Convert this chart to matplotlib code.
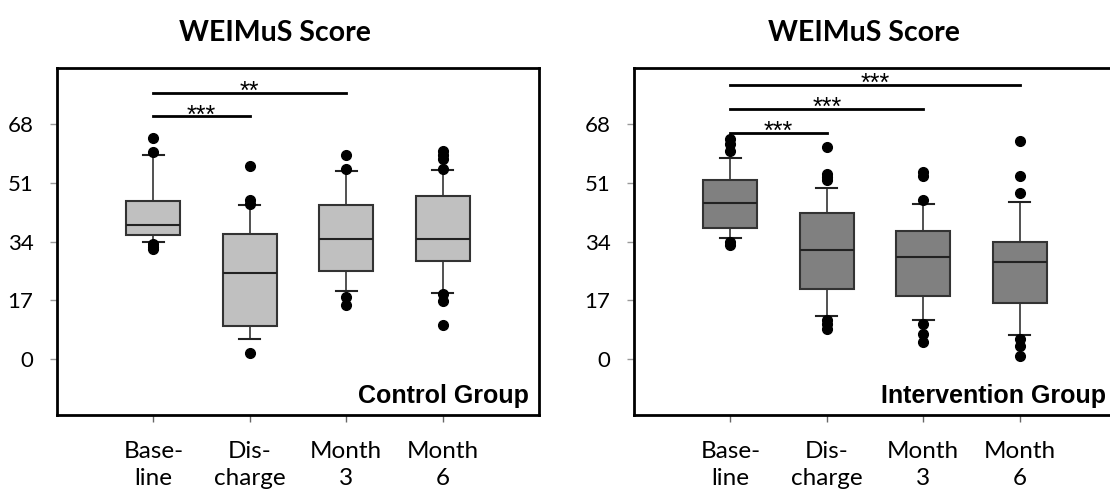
import matplotlib
matplotlib.use("Agg")
import matplotlib.pyplot as plt

# time points
labels = ["Base-\nline", "Dis-\ncharge", "Month\n3", "Month\n6"]
yticks = [0, 17, 34, 51, 68]

# control group
ctrl_med = [38.7, 24.9, 34.8, 34.8]
ctrl_q1 = [35.8, 9.7, 25.4, 28.3]
ctrl_q3 = [45.8, 36.1, 44.5, 47.0]
ctrl_lo = [33.8, 5.9, 19.8, 19.2]
ctrl_hi = [58.9, 44.6, 54.4, 54.7]
ctrl_fliers = [
    [63.9, 59.9, 33.3, 32.5, 31.8],
    [55.8, 46.0, 44.8, 1.9],
    [58.9, 54.8, 17.9, 15.8],
    [60.2, 58.8, 57.7, 54.9, 18.9, 16.8, 9.8],
]
ctrl_sig = [(1, 2, 70.1, "***"), (1, 3, 76.9, "**")]

# intervention group
int_med = [45.0, 31.6, 29.5, 28.0]
int_q1 = [37.9, 20.4, 18.2, 16.4]
int_q3 = [51.6, 42.2, 36.9, 34.0]
int_lo = [34.9, 12.4, 11.4, 7.1]
int_hi = [58.0, 49.4, 44.9, 45.5]
int_fliers = [
    [63.4, 62.2, 60.1, 33.8, 32.9],
    [61.1, 53.4, 52.6, 51.8, 11.3, 10.1, 8.8],
    [54.0, 52.8, 46.1, 10.1, 7.4, 5.0],
    [63.0, 53.0, 48.0, 6.0, 4.0, 1.0],
]
int_sig = [(1, 2, 65.4, "***"), (1, 3, 72.3, "***"), (1, 4, 79.2, "***")]

fig = plt.figure(figsize=(11.1, 4.91), dpi=100)


def panel(rect, med, q1, q3, lo, hi, fl, sig, color, group, title_x):
    ax = fig.add_axes(rect)
    stats = []
    for i in range(4):
        stats.append(dict(med=med[i], q1=q1[i], q3=q3[i], whislo=lo[i],
                          whishi=hi[i], fliers=fl[i]))
    ax.bxp(stats, positions=[1, 2, 3, 4], widths=0.56, capwidths=0.22,
           patch_artist=True,
           boxprops=dict(facecolor=color, edgecolor="#333333", linewidth=1.5),
           medianprops=dict(color="#222222", linewidth=1.5),
           whiskerprops=dict(color="#333333", linewidth=1.2),
           capprops=dict(color="#222222", linewidth=1.5),
           flierprops=dict(marker="o", markerfacecolor="black",
                           markeredgecolor="black", markersize=7))
    for a, b, y, s in sig:
        ax.plot([a, b], [y, y], color="black", lw=2)
        ax.annotate(s, xy=((a + b) / 2, y), xytext=(0, -4.5),
                    textcoords="offset points", ha="center", va="baseline",
                    fontsize=18, family="Liberation Sans")
    ax.set_xlim(0, 5)
    ax.set_ylim(-16, 84)
    ax.set_yticks(yticks)
    ax.set_xticks([1, 2, 3, 4])
    ax.set_xticklabels(labels, fontsize=17.5, family="Lato", linespacing=1.35)
    ax.set_yticklabels([str(v) for v in yticks], fontsize=16, family="Lato")
    ax.tick_params(axis="x", length=5, width=1, color="#666666", pad=14)
    ax.tick_params(axis="y", length=5, width=1, color="#999999", pad=12)
    for sp in ax.spines.values():
        sp.set_linewidth(2)
        sp.set_color("black")
    ax.text(0.98, 0.055, group, transform=ax.transAxes, ha="right",
            va="center", fontsize=18, fontweight="bold",
            family="Liberation Sans")
    ax.text(title_x, 1.10, "WEIMuS Score", transform=ax.transAxes,
            ha="center", va="center", fontsize=20.5, fontweight="bold",
            family="Lato")
    return ax


panel([57 / 1110, 76 / 491, 482 / 1110, 347 / 491], ctrl_med, ctrl_q1,
      ctrl_q3, ctrl_lo, ctrl_hi, ctrl_fliers, ctrl_sig, "#c0c0c0",
      "Control Group", 0.452)
panel([634 / 1110, 76 / 491, 482 / 1110, 347 / 491], int_med, int_q1,
      int_q3, int_lo, int_hi, int_fliers, int_sig, "#808080",
      "Intervention Group", 0.477)

fig.savefig("out.png", dpi=100)
